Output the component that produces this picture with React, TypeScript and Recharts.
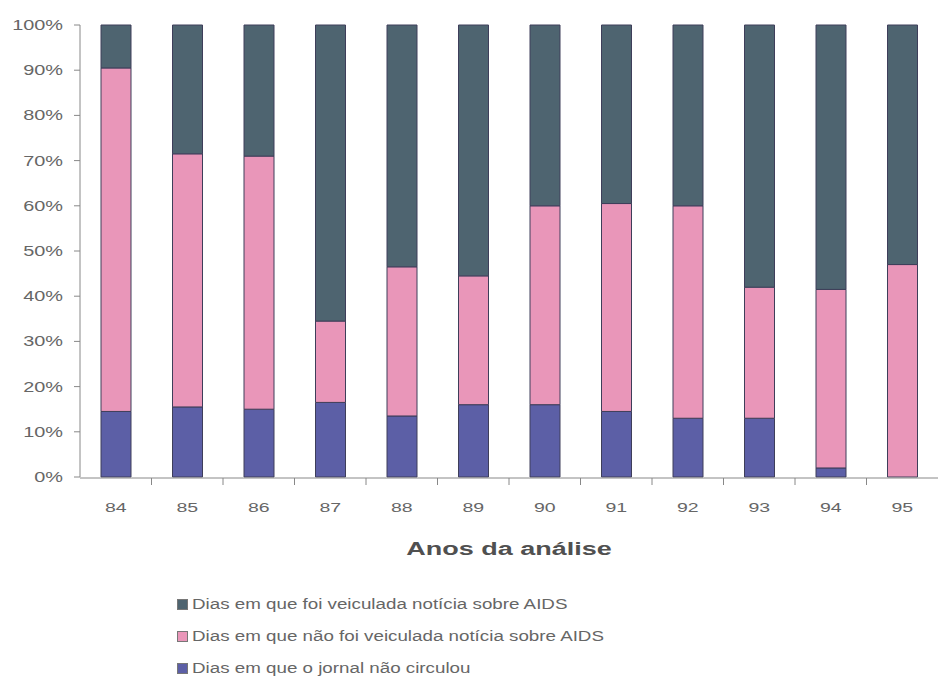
import { Bar, BarChart, XAxis, YAxis } from "recharts"

const anos = ["84", "85", "86", "87", "88", "89", "90", "91", "92", "93", "94", "95"]
// percentual de dias de cada ano
const naoCirculou = [14.5, 15.5, 15, 16.5, 13.5, 16, 16, 14.5, 13, 13, 2, 0]
const semNoticia = [76, 56, 56, 18, 33, 28.5, 44, 46, 47, 29, 39.5, 47]
const comNoticia = [9.5, 28.5, 29, 65.5, 53.5, 55.5, 40, 39.5, 40, 58, 58.5, 53]

const yTicks = [0, 10, 20, 30, 40, 50, 60, 70, 80, 90, 100]
const divisorias = [1, 2, 3, 4, 5, 6, 7, 8, 9, 10, 11]

const legenda = [
  { nome: "Dias em que foi veiculada notícia sobre AIDS", cor: "#4e6470" },
  { nome: "Dias em que não foi veiculada notícia sobre AIDS", cor: "#e996b9" },
  { nome: "Dias em que o jornal não circulou", cor: "#5c5fa6" },
]

const data = anos.map((ano, i) => ({
  ano,
  pos: i + 0.5,
  naoCirculou: naoCirculou[i],
  semNoticia: semNoticia[i],
  comNoticia: comNoticia[i],
}))

const fonte = "'Liberation Sans', Arial, sans-serif"
const corTexto = "#666"

// texto um pouco alargado na horizontal, como na fonte do Excel
const TickY = ({ x, y, payload }: any) => (
  <g transform={`translate(${x},${y})`}>
    <text textAnchor="end" dy={5} transform="scale(1.42,1)" fill={corTexto} fontSize={14} fontFamily={fonte}>
      {`${payload.value}%`}
    </text>
  </g>
)

const TickX = ({ x, y, payload }: any) => (
  <g transform={`translate(${x},${y})`}>
    <text textAnchor="middle" dy={10} transform="scale(1.5,1)" fill={corTexto} fontSize={13} fontFamily={fonte}>
      {payload.value}
    </text>
  </g>
)

const Titulo = () => (
  <div
    style={{
      position: "absolute",
      left: 309,
      top: 539,
      width: 400,
      textAlign: "center",
      fontFamily: fonte,
      fontWeight: "bold",
      fontSize: 18,
      color: "#505050",
      transform: "scaleX(1.5)",
    }}
  >
    Anos da análise
  </div>
)

const LegendaVertical = () => (
  <div
    style={{
      position: "absolute",
      left: 177,
      top: 588,
      fontFamily: fonte,
      fontSize: 14,
      color: corTexto,
    }}
  >
    {legenda.map((item) => (
      <div key={item.nome} style={{ display: "flex", alignItems: "center", height: 32 }}>
        <span
          style={{
            display: "inline-block",
            width: 9,
            height: 9,
            background: item.cor,
            border: "1px solid #777",
            marginRight: 4,
          }}
        />
        <span style={{ display: "inline-block", transform: "scaleX(1.34)", transformOrigin: "left center", whiteSpace: "nowrap" }}>
          {item.nome}
        </span>
      </div>
    ))}
  </div>
)

const App = () => {
  return (
    <div style={{ position: "absolute", left: 0, top: 0, width: 938, height: 700, background: "#fff" }}>
      <BarChart
        width={938}
        height={700}
        data={data}
        margin={{ top: 25, right: 0, left: 0, bottom: 193 }}
        barSize={30}
      >
        {/* rótulos dos anos; o eixo fica colado à área do gráfico */}
        <XAxis
          xAxisId="cat"
          dataKey="ano"
          axisLine={false}
          tickLine={false}
          height={1}
          tick={<TickX />}
          tickMargin={19}
        />
        {/* linha do eixo com as divisões entre anos */}
        <XAxis
          xAxisId="div"
          dataKey="pos"
          type="number"
          domain={[0, 12]}
          ticks={divisorias}
          tickFormatter={() => ""}
          tickSize={7}
          height={29}
          stroke="#888"
          allowDataOverflow
        />
        <YAxis
          type="number"
          domain={[0, 100]}
          ticks={yTicks}
          width={80}
          stroke="#888"
          tickSize={6}
          tickMargin={11}
          tick={<TickY />}
        />
        <Bar xAxisId="cat" dataKey="naoCirculou" stackId="a" fill="#5c5fa6" stroke="#3e3e5a" isAnimationActive={false} />
        <Bar xAxisId="cat" dataKey="semNoticia" stackId="a" fill="#e996b9" stroke="#3e3e5a" isAnimationActive={false} />
        <Bar xAxisId="cat" dataKey="comNoticia" stackId="a" fill="#4e6470" stroke="#3e3e5a" isAnimationActive={false} />
      </BarChart>
      <Titulo />
      <LegendaVertical />
    </div>
  )
}

export default App
